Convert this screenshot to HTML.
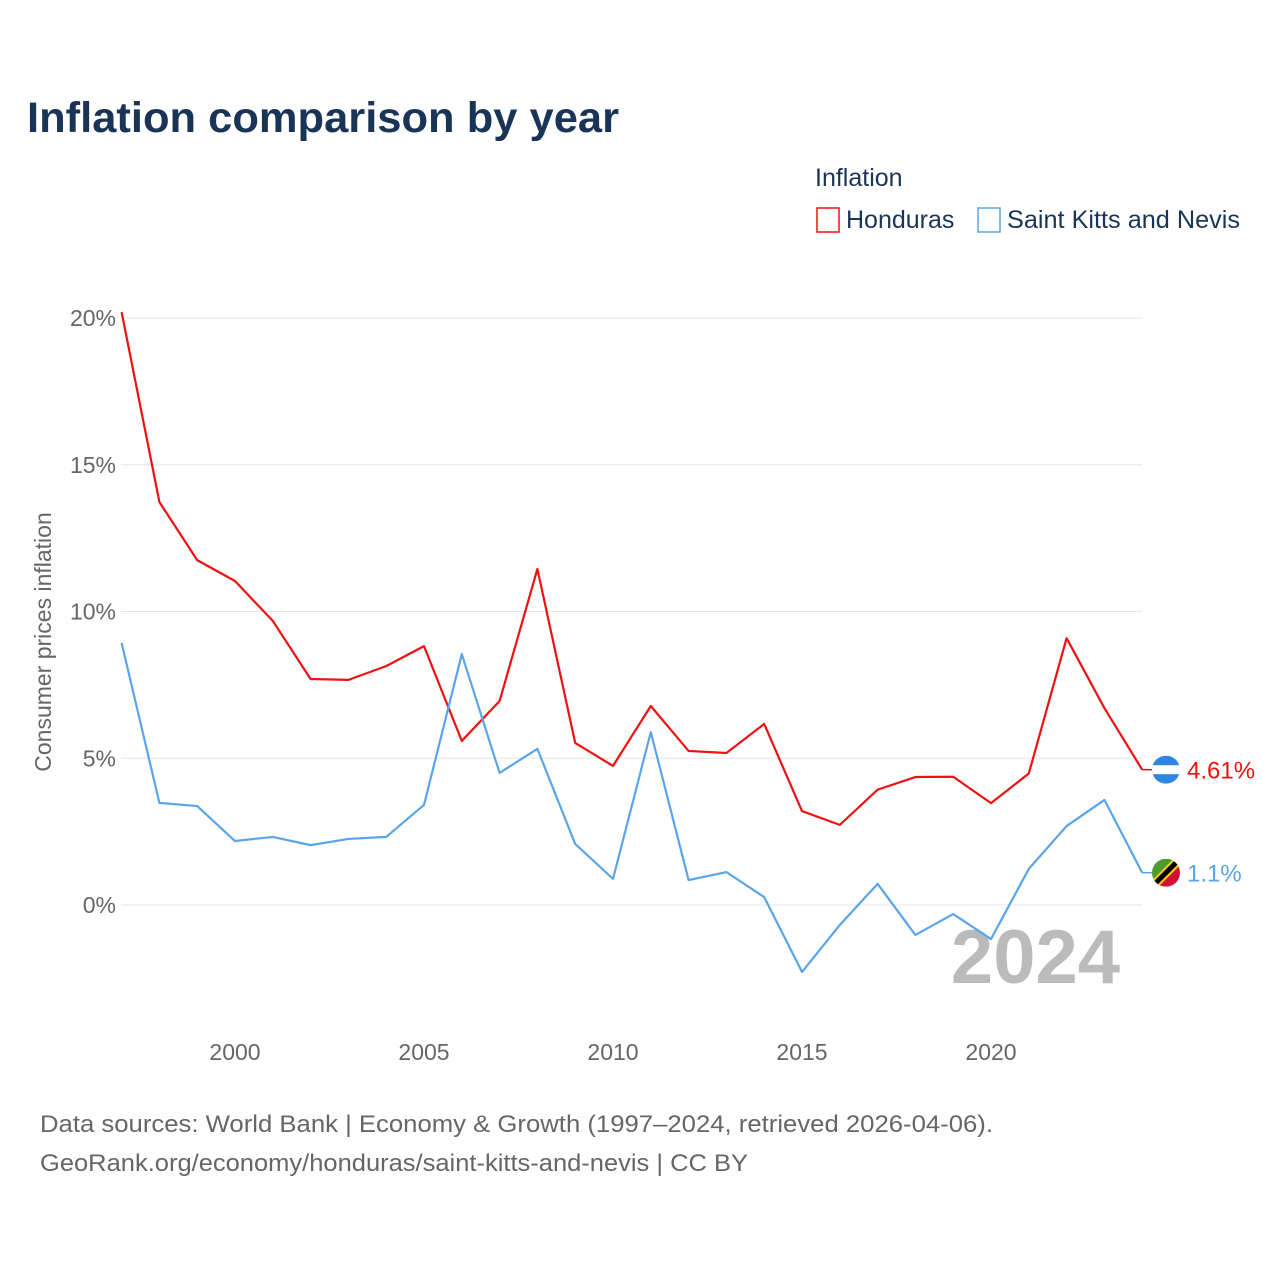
<!DOCTYPE html>
<html><head><meta charset="utf-8"><style>
body{margin:0;background:#fff;font-family:"Liberation Sans",sans-serif;}
svg text{font-family:"Liberation Sans",sans-serif;}
</style></head><body>
<svg id="chart" width="1280" height="1280" viewBox="0 0 1280 1280" xmlns="http://www.w3.org/2000/svg">
<defs>
<clipPath id="c1"><circle cx="1166" cy="0" r="14"/></clipPath>
</defs>
<text x="27" y="132" font-size="43" font-weight="bold" fill="#1a3457" textLength="592" lengthAdjust="spacingAndGlyphs">Inflation comparison by year</text>
<text x="815" y="186" font-size="25" fill="#1a3457">Inflation</text>
<g><rect x="817" y="208" width="22" height="24" fill="none" stroke="#ee1111" stroke-width="1.5"/><text x="846" y="228" font-size="25" fill="#1a3457">Honduras</text></g>
<g><rect x="978" y="208" width="22" height="24" fill="none" stroke="#5aa5ea" stroke-width="1.5"/><text x="1007" y="228" font-size="25" fill="#1a3457" textLength="233" lengthAdjust="spacingAndGlyphs">Saint Kitts and Nevis</text></g>
<g id="grid"></g><g id="yt"></g><g id="xt"></g>
<text transform="translate(51,642) rotate(-90)" text-anchor="middle" font-size="23" fill="#666">Consumer prices inflation</text>
<text x="1120" y="983" text-anchor="end" font-size="76" font-weight="bold" fill="#bbb">2024</text>
<g id="series"></g>
<text x="40" y="1132" font-size="24" fill="#666" textLength="953" lengthAdjust="spacingAndGlyphs">Data sources: World Bank | Economy &amp; Growth (1997–2024, retrieved 2026-04-06).</text>
<text x="40" y="1171" font-size="24" fill="#666" textLength="708" lengthAdjust="spacingAndGlyphs">GeoRank.org/economy/honduras/saint-kitts-and-nevis | CC BY</text>
</svg>
<script>
const years=[1997,1998,1999,2000,2001,2002,2003,2004,2005,2006,2007,2008,2009,2010,2011,2012,2013,2014,2015,2016,2017,2018,2019,2020,2021,2022,2023,2024];
const honduras=[20.2,13.73,11.75,11.04,9.68,7.70,7.67,8.14,8.82,5.59,6.95,11.45,5.52,4.74,6.78,5.25,5.18,6.17,3.20,2.73,3.93,4.36,4.37,3.47,4.48,9.09,6.71,4.61];
const skn=[8.93,3.48,3.37,2.18,2.32,2.04,2.25,2.32,3.41,8.55,4.50,5.32,2.08,0.89,5.89,0.85,1.12,0.27,-2.28,-0.68,0.72,-1.02,-0.31,-1.16,1.23,2.69,3.58,1.1];
const yTicks=[0,5,10,15,20];
const xTicks=[2000,2005,2010,2015,2020];
const NS="http://www.w3.org/2000/svg";
const X=y=>121.6+(y-1997)*37.8;
const Y=v=>905-v*29.35;
function mk(t,a,p){const e=document.createElementNS(NS,t);for(const k in a)e.setAttribute(k,a[k]);(typeof p==='string'?document.getElementById(p):p).appendChild(e);return e;}
yTicks.forEach(v=>{
 const l=mk('line',{x1:121,x2:1142,y1:Y(v),y2:Y(v),stroke:'#e6e6e6','stroke-width':1},'grid');
 
 
 const t=mk('text',{x:116,y:Y(v)+8,'text-anchor':'end','font-size':23,fill:'#666'},'yt');t.textContent=v+'%';
 
 
});
xTicks.forEach(v=>{
 const t=mk('text',{x:X(v),y:1060,'text-anchor':'middle','font-size':23,fill:'#666'},'xt');t.textContent=v;
 
 
});
function series(vals,col,name,label,flag){
 const d=vals.map((v,i)=>(i?'L':'M')+X(years[i])+','+Y(v)).join('');
 const p=mk('path',{d:d,fill:'none',stroke:col,'stroke-width':2.2,'stroke-linejoin':'round'},'series');
 
 
 const last=vals[vals.length-1], cy=Y(last);
 mk('line',{x1:X(years[years.length-1]),x2:1152,y1:cy,y2:cy,stroke:col,'stroke-width':1.5},'series');
 const g=mk('g',{},'series');
 
 
 const cid='clip-'+name;
 const cp=mk('clipPath',{id:cid},g);mk('circle',{cx:1166,cy:cy,r:14},cp);
 const inner=mk('g',{'clip-path':'url(#'+cid+')'},g);
 if(flag==='hn'){
  mk('rect',{x:1152,y:cy-14,width:28,height:28,fill:'#2f86e0'},inner);
  mk('rect',{x:1152,y:cy-4.5,width:28,height:9,fill:'#fff'},inner);
 } else {
  mk('polygon',{points:(1152)+','+(cy+14)+' '+(1152)+','+(cy-14)+' '+(1180)+','+(cy-14),fill:'#4e9a2a'},inner);
  mk('polygon',{points:(1152)+','+(cy+14)+' '+(1180)+','+(cy+14)+' '+(1180)+','+(cy-14),fill:'#d21034'},inner);
  mk('line',{x1:1152,y1:cy+14,x2:1180,y2:cy-14,stroke:'#fcd116','stroke-width':9},inner);
  mk('line',{x1:1152,y1:cy+14,x2:1180,y2:cy-14,stroke:'#000','stroke-width':5},inner);
 }
 const t=mk('text',{x:1187,y:cy+9,'font-size':24,fill:col},'series');t.textContent=label;
 
 
}
series(honduras,'#ee1111','honduras','4.61%','hn');
series(skn,'#5aa5ea','saint-kitts','1.1%','kn');
</script>
</body></html>
